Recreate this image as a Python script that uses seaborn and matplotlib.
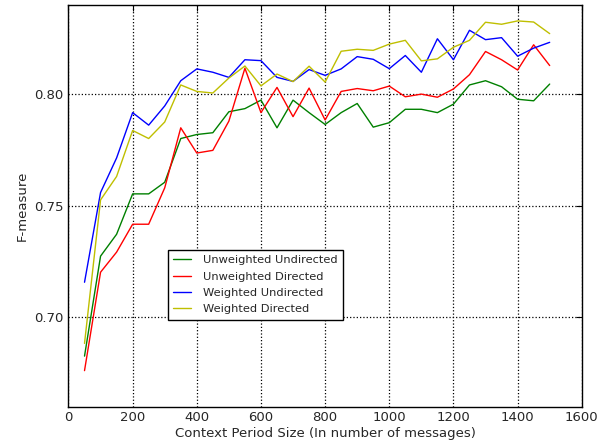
import matplotlib
matplotlib.use("Agg")
import matplotlib.pyplot as plt
import numpy as np
import pandas as pd
import seaborn as sns

sns.set_style("white")
plt.rcParams["font.family"] = ["DejaVu Sans"]
plt.rcParams["xtick.direction"] = "in"
plt.rcParams["ytick.direction"] = "in"
plt.rcParams["xtick.top"] = True
plt.rcParams["ytick.right"] = True

sizes = list(range(50, 1501, 50))

unweighted_undirected = [0.6826, 0.7274, 0.7372, 0.7553, 0.7553, 0.7605, 0.7801, 0.7819, 0.7827, 0.7921,
                         0.7935, 0.7973, 0.7849, 0.7973, 0.7917, 0.7864, 0.7917, 0.7958, 0.7852, 0.7872,
                         0.7932, 0.7932, 0.7917, 0.7955, 0.8041, 0.8060, 0.8033, 0.7977, 0.7970, 0.8045]
unweighted_directed = [0.6761, 0.7202, 0.7292, 0.7417, 0.7417, 0.7580, 0.7849, 0.7736, 0.7748, 0.7879,
                       0.8116, 0.7917, 0.8030, 0.7899, 0.8027, 0.7884, 0.8012, 0.8025, 0.8015, 0.8036,
                       0.7988, 0.8000, 0.7986, 0.8023, 0.8087, 0.8191, 0.8154, 0.8108, 0.8221, 0.8128]
weighted_undirected = [0.7157, 0.7559, 0.7714, 0.7917, 0.7861, 0.7947, 0.8060, 0.8113, 0.8098, 0.8075,
                       0.8154, 0.8150, 0.8075, 0.8057, 0.8110, 0.8084, 0.8113, 0.8168, 0.8156, 0.8114,
                       0.8173, 0.8098, 0.8248, 0.8154, 0.8286, 0.8244, 0.8253, 0.8170, 0.8206, 0.8232]
weighted_directed = [0.6883, 0.7526, 0.7631, 0.7837, 0.7801, 0.7875, 0.8041, 0.8012, 0.8005, 0.8072,
                     0.8126, 0.8037, 0.8090, 0.8056, 0.8125, 0.8054, 0.8192, 0.8201, 0.8196, 0.8224,
                     0.8241, 0.8149, 0.8158, 0.8210, 0.8241, 0.8322, 0.8313, 0.8328, 0.8323, 0.8271]

series = {
    "Unweighted Undirected": unweighted_undirected,
    "Unweighted Directed": unweighted_directed,
    "Weighted Undirected": weighted_undirected,
    "Weighted Directed": weighted_directed,
}

rows = []
for name, vals in series.items():
    for s, v in zip(sizes, vals):
        rows.append([name, s, v])
df = pd.DataFrame(rows, columns=["method", "size", "f"])

my_pal = {
    "Unweighted Undirected": (0, 0.5, 0),
    "Unweighted Directed": (1, 0, 0),
    "Weighted Undirected": (0, 0, 1),
    "Weighted Directed": (0.75, 0.75, 0),
}

fig, ax = plt.subplots(figsize=(6.06, 4.4), dpi=100)
plt.subplots_adjust(left=0.113, right=0.96, top=0.989, bottom=0.076)

sns.lineplot(data=df, x="size", y="f", hue="method", palette=my_pal, linewidth=1.0, ax=ax)

ax.set_xlim(0, 1600)
ax.set_ylim(0.66, 0.84)
ax.set_xticks(np.arange(0, 1601, 200))
ax.set_yticks([0.70, 0.75, 0.80])
ax.set_yticklabels(["0.70", "0.75", "0.80"])
ax.tick_params(labelsize=9.5, length=4, width=0.8, color="k")
ax.grid(True, linestyle=":", color="k", linewidth=0.9)

for sp in ax.spines.values():
    sp.set_color("k")
    sp.set_linewidth(1.0)

ax.set_xlabel("Context Period Size (In number of messages)", fontsize=9.5, labelpad=2)
ax.set_ylabel("F-measure", fontsize=9.5, labelpad=4)

handles, labels = ax.get_legend_handles_labels()
leg = ax.legend(handles, labels, loc="lower left", bbox_to_anchor=(0.193, 0.216), borderaxespad=0,
                fontsize=8.2, fancybox=False, framealpha=1, edgecolor="k", handlelength=1.6,
                handletextpad=1.0, borderpad=0.5, labelspacing=0.55)
leg.get_frame().set_linewidth(1.0)

plt.savefig("out.png", dpi=100)
